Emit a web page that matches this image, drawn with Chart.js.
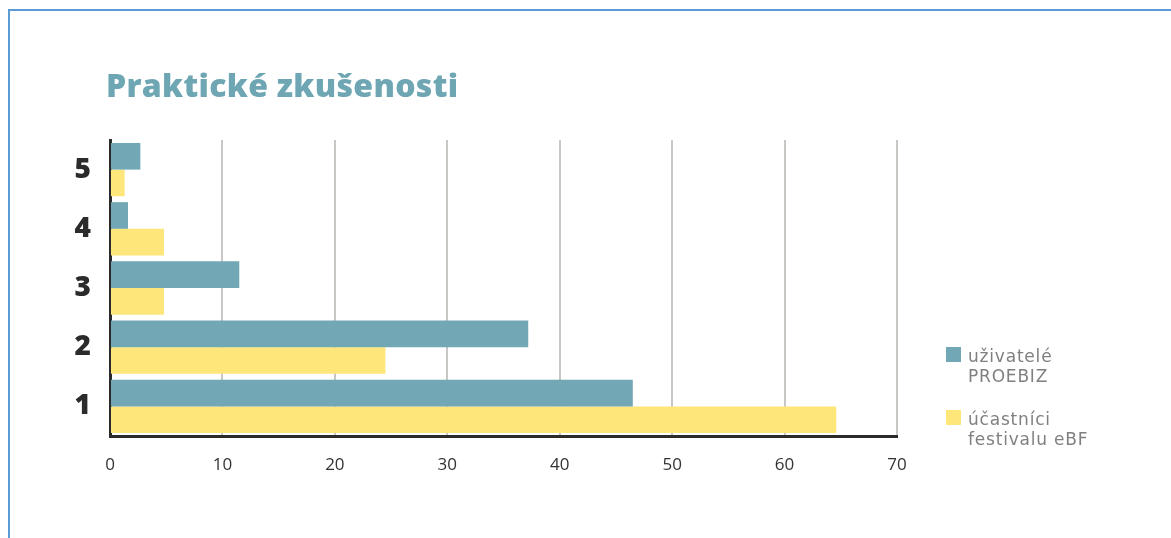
<!DOCTYPE html>
<html lang="cs">
<head>
<meta charset="utf-8">
<title>Praktické zkušenosti</title>
<script src="https://cdn.jsdelivr.net/npm/chart.js@4.4.1/dist/chart.umd.min.js"></script>
<style>
  html, body { margin: 0; padding: 0; background: #ffffff; }
  #wrap { position: relative; width: 1171px; height: 538px; overflow: hidden; }
  #frame {
    position: absolute; left: 8px; top: 9px; width: 1200px; height: 600px;
    border-top: 2px solid #5b9bd5; border-left: 2px solid #5b9bd5;
  }
  #chart { position: absolute; left: 0; top: 0; }
</style>
</head>
<body>
<div id="wrap">
  <div id="frame"></div>
  <canvas id="chart" width="1171" height="538"></canvas>
</div>
<script>
// Rating categories, top to bottom
const categories = ['5', '4', '3', '2', '1'];
// Share of respondents (%) per rating
const proebizUsers = [2.7, 1.6, 11.5, 37.2, 46.5];
const ebfParticipants = [1.3, 4.8, 4.8, 24.5, 64.6];
// Series names (two-line legend entries)
const seriesNames = [['uživatelé', 'PROEBIZ'], ['účastníci', 'festivalu eBF']];
const xTicks = [0, 10, 20, 30, 40, 50, 60, 70];
const chartTitle = 'Praktické zkušenosti';

const TEAL = '#72a7b5';
const YELLOW = '#fee67a';

// Title and two-line legend drawn onto the canvas
const decorations = {
  id: 'decorations',
  afterDraw(chart) {
    const ctx = chart.ctx;
    ctx.save();
    ctx.fillStyle = '#6ea6b4';
    ctx.font = '800 32px "Open Sans", sans-serif';
    if ('letterSpacing' in ctx) ctx.letterSpacing = '0.3px';
    ctx.textBaseline = 'alphabetic';
    ctx.textAlign = 'left';
    ctx.fillText(chartTitle, 106, 97);

    ctx.font = '400 17px "DejaVu Sans", sans-serif';
    if ('letterSpacing' in ctx) ctx.letterSpacing = '0.8px';
    const entries = chart.data.datasets.map((ds, i) => ({ color: ds.backgroundColor, lines: seriesNames[i] }));
    const tops = [347, 410];
    entries.forEach((e, i) => {
      const y0 = tops[i];
      ctx.fillStyle = e.color;
      ctx.fillRect(946, y0, 15, 15);
      ctx.fillStyle = '#808080';
      e.lines.forEach((line, j) => {
        ctx.fillText(line, 968, y0 + 15 + j * 20);
      });
    });
    ctx.restore();
  }
};

new Chart(document.getElementById('chart'), {
  type: 'bar',
  data: {
    labels: categories,
    datasets: [
      { label: seriesNames[0].join(' '), data: proebizUsers, backgroundColor: TEAL },
      { label: seriesNames[1].join(' '), data: ebfParticipants, backgroundColor: YELLOW }
    ]
  },
  options: {
    indexAxis: 'y',
    responsive: false,
    animation: false,
    devicePixelRatio: 1,
    layout: { padding: { left: 0, top: 140, right: 274, bottom: 0 } },
    datasets: { bar: { categoryPercentage: 0.9, barPercentage: 1.0 } },
    plugins: {
      legend: { display: false },
      tooltip: { enabled: false },
      title: { display: false }
    },
    scales: {
      x: {
        type: 'linear',
        min: 0,
        max: 70,
        afterFit(scale) { scale.height = 102; },
        afterBuildTicks(scale) { scale.ticks = xTicks.map(v => ({ value: v })); },
        grid: { color: '#c9c7c4', lineWidth: 2, drawTicks: false },
        border: { display: true, color: '#2b2b2b', width: 3 },
        ticks: {
          padding: 19,
          color: '#333333',
          font: { family: '"Open Sans", sans-serif', size: 17, weight: '400' }
        }
      },
      y: {
        afterFit(scale) { scale.width = 110; },
        grid: { display: false, drawTicks: false },
        border: { display: true, color: '#2b2b2b', width: 3 },
        ticks: {
          padding: 19,
          color: '#2b2b2b',
          font: { family: '"Open Sans", sans-serif', size: 28, weight: '800' }
        }
      }
    }
  },
  plugins: [decorations]
});
</script>
</body>
</html>
